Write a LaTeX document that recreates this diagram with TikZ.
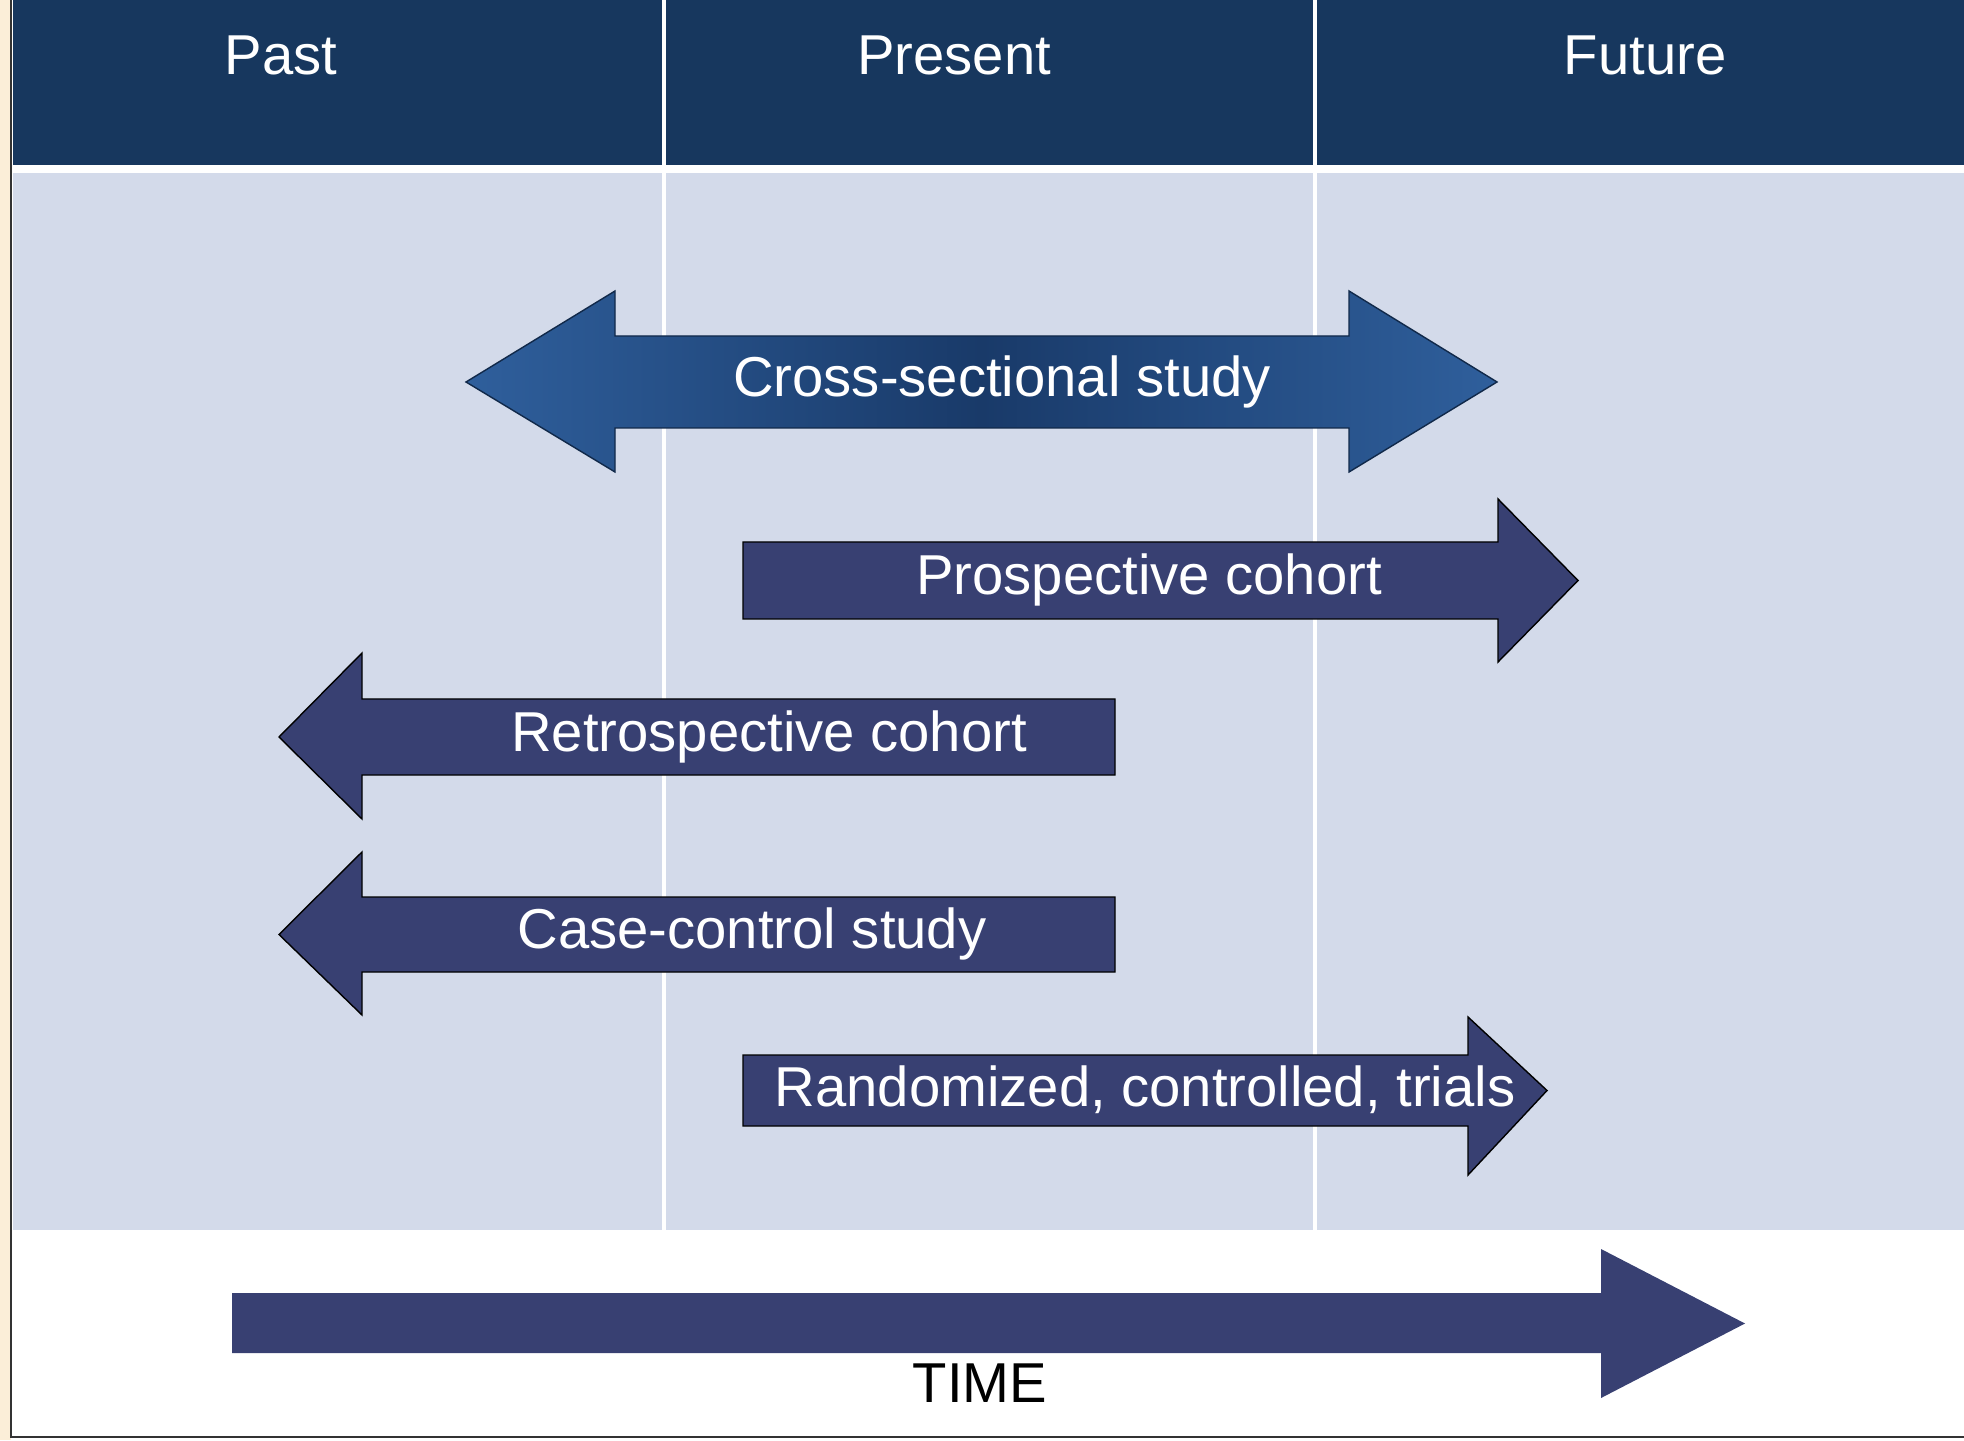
\documentclass[tikz,border=0pt]{standalone}
\usepackage{fontspec}
\setmainfont{Liberation Sans}
\usepackage{tikz}

\definecolor{headnavy}{RGB}{23,55,94}
\definecolor{paleblue}{RGB}{211,218,234}
\definecolor{slatenavy}{RGB}{56,64,114}
\definecolor{crossedge}{RGB}{47,95,156}
\definecolor{crossmid}{RGB}{25,58,105}
\definecolor{cream}{RGB}{251,238,216}

\begin{document}
\begin{tikzpicture}[
    blockarrow/.style={fill=slatenavy, draw=black, thin},
    lbl/.style={text=white, font=\fontsize{16}{19}\selectfont},
    divider/.style={white, line width=1.1pt}
]
        \useasboundingbox (0,0) rectangle (19.64,14.40);
        % frame
        \fill [cream] (0,0) rectangle (0.11,14.40);
        \fill [white] (0.11,0) rectangle (19.64,14.40);
        \draw [black!80, line width=0.8pt] (0.11,14.40) -- (0.11,0.03) -- (19.64,0.03);

        % header
        \fill [headnavy] (0.13,12.75) rectangle (19.64,14.40);
        \fill [paleblue] (0.13,2.10) rectangle (19.64,12.67);
        \draw [divider] (6.64,14.40) -- (6.64,2.10);
        \draw [divider] (13.15,14.40) -- (13.15,2.10);
        % label
        \node [lbl] (past) at (2.81,13.85) {Past};
        \node [lbl] (present) at (9.54,13.85) {Present};
        \node [lbl] (future) at (16.45,13.85) {Future};

        % Cross-sectional
        \draw [draw=crossmid!70!black, thin, left color=crossedge, right color=crossedge, middle color=crossmid]
            (4.66,10.58) -- (6.15,11.49) -- (6.15,11.04) -- (13.49,11.04) -- (13.49,11.49)
            -- (14.97,10.58) -- (13.49,9.68) -- (13.49,10.12) -- (6.15,10.12) -- (6.15,9.68) -- cycle;
        \node [lbl] (cross) at (10.02,10.58) {Cross-sectional study};

        % Prospective
        \draw [blockarrow] (7.43,8.21) -- (7.43,8.98) -- (14.98,8.98) -- (14.98,9.41)
            -- (15.78,8.595) -- (14.98,7.78) -- (14.98,8.21) -- cycle;
        \node [lbl] (prosp) at (11.49,8.60) {Prospective cohort};

        % Retrospective
        \draw [blockarrow] (11.15,6.65) -- (11.15,7.41) -- (3.62,7.41) -- (3.62,7.87)
            -- (2.79,7.03) -- (3.62,6.21) -- (3.62,6.65) -- cycle;
        \node [lbl] (retro) at (7.69,7.03) {Retrospective cohort};

        % Case-control
        \draw [blockarrow] (11.15,4.68) -- (11.15,5.43) -- (3.62,5.43) -- (3.62,5.88)
            -- (2.79,5.055) -- (3.62,4.25) -- (3.62,4.68) -- cycle;
        \node [lbl] (casectl) at (7.52,5.06) {Case-control study};

        % Randomized
        \draw [blockarrow] (7.43,3.14) -- (7.43,3.85) -- (14.68,3.85) -- (14.68,4.23)
            -- (15.47,3.495) -- (14.68,2.65) -- (14.68,3.14) -- cycle;
        \node [lbl] (rct) at (11.45,3.50) {Randomized, controlled, trials};

        % time axis
        \fill [slatenavy] (2.32,0.87) -- (2.32,1.47) -- (16.01,1.47) -- (16.01,1.91)
            -- (17.45,1.165) -- (16.01,0.42) -- (16.01,0.87) -- cycle;
        \node [lbl, text=black] (time) at (9.80,0.57) {TIME};
\end{tikzpicture}
\end{document}
